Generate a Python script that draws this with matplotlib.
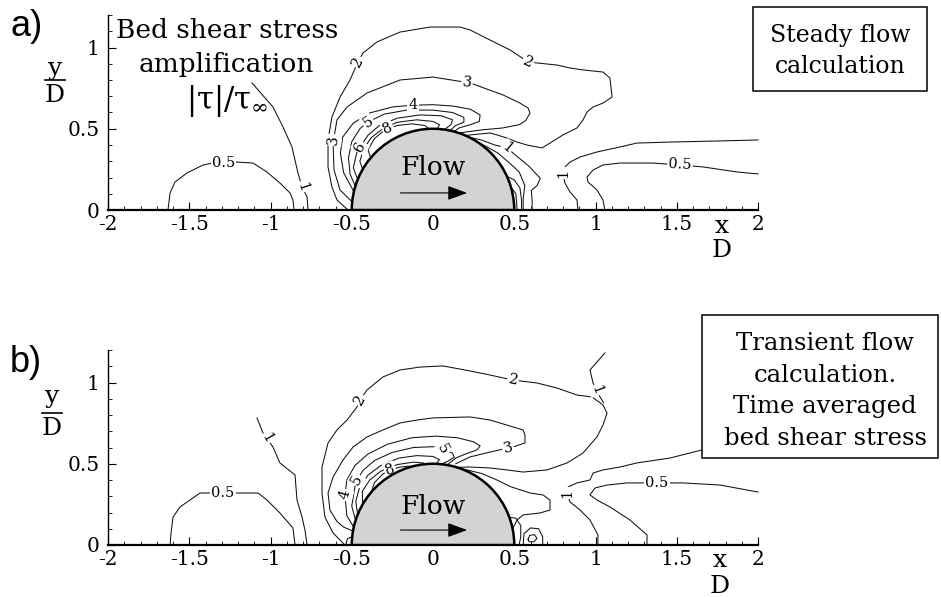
import matplotlib
matplotlib.use("Agg")
import matplotlib.pyplot as plt
from matplotlib.patches import Wedge, Rectangle
from matplotlib.lines import Line2D
from matplotlib.ticker import MultipleLocator

plt.rcParams['font.family'] = 'DejaVu Serif'
plt.rcParams['mathtext.fontset'] = 'dejavuserif'
plt.rcParams['axes.unicode_minus'] = False

# axis ticks
XTICKS = [-2, -1.5, -1, -0.5, 0, 0.5, 1, 1.5, 2]
XTICK_LABELS = ['-2', '-1.5', '-1', '-0.5', '0', '0.5', '1', '1.5', '2']
YTICKS = [0, 0.5, 1]
YTICK_LABELS = ['0', '0.5', '1']
CYL_R = 0.5

# ---- a) steady flow, contour lines (x/D, y/D) ----
a_05_left = [(-1.631, 0.0), (-1.618, 0.105), (-1.588, 0.172), (-1.514, 0.228), (-1.415, 0.277),
             (-1.354, 0.289), (-1.206, 0.295), (-1.108, 0.289), (-1.022, 0.234), (-0.942, 0.166),
             (-0.880, 0.105), (-0.862, 0.062), (-0.855, 0.0)]
a_1_left = [(-1.114, 0.782), (-0.985, 0.634), (-0.923, 0.511), (-0.868, 0.388), (-0.831, 0.228),
            (-0.806, 0.142), (-0.775, 0.080), (-0.769, 0.0)]
a_2 = [(-0.523, 0.0), (-0.591, 0.062), (-0.622, 0.142), (-0.646, 0.265), (-0.646, 0.431),
       (-0.622, 0.572), (-0.572, 0.695), (-0.511, 0.800), (-0.462, 0.911), (-0.431, 0.966),
       (-0.345, 1.034), (-0.203, 1.095), (-0.018, 1.126), (0.166, 1.126), (0.228, 1.108),
       (0.351, 1.046), (0.474, 0.985), (0.585, 0.911), (0.640, 0.905), (0.763, 0.892),
       (0.843, 0.874), (0.923, 0.862), (1.046, 0.849), (1.089, 0.812), (1.102, 0.695),
       (1.046, 0.658), (0.985, 0.634), (0.948, 0.603), (0.923, 0.554), (0.886, 0.505),
       (0.800, 0.462), (0.720, 0.412), (0.671, 0.382), (0.578, 0.400), (0.517, 0.418),
       (0.455, 0.443), (0.394, 0.462), (0.351, 0.474), (0.2, 0.459)]
a_3 = [(-0.497, 0.05), (-0.572, 0.123), (-0.609, 0.246), (-0.615, 0.412), (-0.591, 0.554),
       (-0.529, 0.634), (-0.406, 0.720), (-0.203, 0.800), (0.0, 0.818), (0.228, 0.782),
       (0.431, 0.708), (0.535, 0.658), (0.585, 0.628), (0.597, 0.597), (0.57, 0.55),
       (0.53, 0.525), (0.43, 0.505), (0.30, 0.493), (0.16, 0.474)]
a_4 = [(-0.487, 0.112), (-0.55, 0.23), (-0.57, 0.35), (-0.555, 0.45), (-0.49, 0.535),
       (-0.39, 0.597), (-0.25, 0.634), (-0.123, 0.645), (0.0, 0.648), (0.12, 0.64),
       (0.23, 0.62), (0.29, 0.585), (0.285, 0.545), (0.23, 0.525), (0.16, 0.505), (0.13, 0.483)]
a_5 = [(-0.478, 0.146), (-0.51, 0.22), (-0.52, 0.32), (-0.50, 0.42), (-0.45, 0.50),
       (-0.40, 0.542), (-0.30, 0.59), (-0.16, 0.615), (0.0, 0.615), (0.12, 0.60),
       (0.19, 0.57), (0.19, 0.54), (0.14, 0.52), (0.104, 0.489)]
a_6 = [(-0.464, 0.187), (-0.49, 0.26), (-0.47, 0.35), (-0.449, 0.388), (-0.40, 0.46),
       (-0.33, 0.52), (-0.22, 0.565), (-0.08, 0.585), (0.05, 0.58), (0.12, 0.555),
       (0.11, 0.525), (0.07, 0.495)]
a_7 = [(-0.433, 0.25), (-0.45, 0.30), (-0.425, 0.38), (-0.38, 0.445), (-0.31, 0.50),
       (-0.22, 0.54), (-0.10, 0.555), (0.0, 0.545), (0.04, 0.525), (0.026, 0.499)]
a_8 = [(-0.383, 0.321), (-0.40, 0.37), (-0.36, 0.44), (-0.30, 0.49), (-0.22, 0.52),
       (-0.13, 0.53), (-0.05, 0.52), (-0.026, 0.499)]
a_1_near = [(0.22, 0.449), (0.30, 0.43), (0.38, 0.40), (0.455, 0.382), (0.517, 0.33),
            (0.59, 0.27), (0.66, 0.195), (0.64, 0.15), (0.605, 0.12), (0.61, 0.06), (0.61, 0.0)]
a_w1 = [(0.28, 0.415), (0.33, 0.39), (0.40, 0.35), (0.47, 0.29), (0.53, 0.235),
        (0.565, 0.15), (0.555, 0.07), (0.555, 0.0)]
a_w2 = [(0.455, 0.207), (0.50, 0.185), (0.535, 0.135), (0.545, 0.06), (0.545, 0.0)]
a_w3 = [(0.48, 0.14), (0.51, 0.10), (0.518, 0.0)]
a_1_right = [(0.892, 0.0), (0.886, 0.062), (0.843, 0.111), (0.812, 0.166), (0.80, 0.228),
             (0.812, 0.265), (0.843, 0.295), (0.905, 0.326), (1.009, 0.357), (1.151, 0.388),
             (1.255, 0.412), (1.458, 0.418), (1.766, 0.425), (2.0, 0.431)]
a_05_right = [(1.058, 0.0), (1.046, 0.062), (1.009, 0.123), (0.954, 0.172), (0.948, 0.203),
              (0.985, 0.246), (1.046, 0.277), (1.151, 0.289), (1.354, 0.289), (1.52, 0.277),
              (1.662, 0.265), (1.871, 0.234), (2.0, 0.222)]
a_labels = [('0.5', -1.29, 0.292, 0), ('1', -0.806, 0.142, -72), ('2', -0.462, 0.911, 62),
            ('3', -0.612, 0.43, 85), ('6', -0.449, 0.388, 60), ('5', -0.40, 0.542, 35),
            ('8', -0.277, 0.50, 25), ('4', -0.123, 0.645, 0), ('3', 0.209, 0.785, -8),
            ('2', 0.585, 0.911, -25), ('1', 0.455, 0.382, -40), ('1', 0.80, 0.228, 90),
            ('0.5', 1.52, 0.277, -3)]

# ---- b) transient flow, time averaged ----
b_05_left = [(-1.618, 0.0), (-1.612, 0.074), (-1.60, 0.172), (-1.557, 0.234), (-1.495, 0.277),
             (-1.434, 0.32), (-1.292, 0.32), (-1.145, 0.32), (-1.077, 0.32), (-1.022, 0.277),
             (-0.942, 0.197), (-0.862, 0.105), (-0.849, 0.0)]
b_1_left = [(-1.083, 0.782), (-1.046, 0.689), (-1.022, 0.658), (-0.985, 0.603), (-0.942, 0.505),
            (-0.849, 0.431), (-0.837, 0.277), (-0.806, 0.172), (-0.788, 0.092), (-0.775, 0.0)]
b_2 = [(-0.542, 0.0), (-0.615, 0.074), (-0.665, 0.172), (-0.683, 0.32), (-0.683, 0.48),
       (-0.646, 0.628), (-0.591, 0.708), (-0.529, 0.769), (-0.468, 0.849), (-0.449, 0.892),
       (-0.406, 0.954), (-0.308, 1.034), (-0.203, 1.077), (-0.08, 1.095), (0.062, 1.102),
       (0.228, 1.071), (0.351, 1.046), (0.492, 1.015), (0.640, 0.997), (0.763, 0.966),
       (0.886, 0.923), (0.978, 0.911), (1.046, 0.862), (1.071, 0.812), (1.046, 0.738),
       (1.009, 0.665), (0.923, 0.566), (0.825, 0.505), (0.702, 0.462), (0.554, 0.449),
       (0.455, 0.462), (0.351, 0.474), (0.228, 0.48), (0.15, 0.478)]
b_1_top = [(1.058, 1.182), (0.966, 1.077), (0.985, 0.997), (1.009, 0.954), (1.028, 0.911),
           (1.05, 0.875)]
b_3 = [(-0.49, 0.085), (-0.55, 0.11), (-0.591, 0.145), (-0.634, 0.215), (-0.646, 0.32),
       (-0.615, 0.418), (-0.554, 0.523), (-0.492, 0.603), (-0.406, 0.665), (-0.308, 0.708),
       (-0.203, 0.751), (-0.098, 0.769), (0.0, 0.782), (0.228, 0.788), (0.351, 0.769),
       (0.455, 0.738), (0.554, 0.708), (0.566, 0.677), (0.566, 0.628), (0.492, 0.603),
       (0.462, 0.597), (0.351, 0.572), (0.228, 0.542), (0.14, 0.50)]
b_4 = [(-0.488, 0.11), (-0.53, 0.18), (-0.542, 0.308), (-0.53, 0.40), (-0.48, 0.49),
       (-0.40, 0.56), (-0.28, 0.62), (-0.13, 0.66), (0.02, 0.67), (0.15, 0.66), (0.25, 0.635),
       (0.29, 0.61), (0.27, 0.585), (0.20, 0.56), (0.14, 0.535), (0.09, 0.495)]
b_5 = [(-0.476, 0.15), (-0.50, 0.24), (-0.48, 0.36), (-0.468, 0.40), (-0.43, 0.46),
       (-0.36, 0.52), (-0.25, 0.57), (-0.12, 0.60), (0.0, 0.605), (0.06, 0.59), (0.12, 0.565),
       (0.13, 0.54), (0.09, 0.515), (0.05, 0.497)]
b_6 = [(-0.464, 0.187), (-0.475, 0.27), (-0.45, 0.36), (-0.40, 0.43), (-0.32, 0.49),
       (-0.21, 0.535), (-0.10, 0.55), (0.0, 0.545), (0.04, 0.525), (0.02, 0.50)]
b_7 = [(-0.433, 0.25), (-0.435, 0.33), (-0.39, 0.40), (-0.32, 0.455), (-0.22, 0.495),
       (-0.12, 0.51), (-0.06, 0.505), (-0.05, 0.497)]
b_8 = [(-0.38, 0.325), (-0.36, 0.385), (-0.31, 0.435), (-0.265, 0.462), (-0.20, 0.48),
       (-0.15, 0.485), (-0.13, 0.483)]
b_small = [(-0.497, 0.05), (-0.525, 0.04), (-0.535, 0.015), (-0.53, 0.0)]
b_w1 = [(0.16, 0.474), (0.30, 0.44), (0.394, 0.40), (0.474, 0.36), (0.597, 0.32),
        (0.677, 0.308), (0.72, 0.277), (0.72, 0.215), (0.658, 0.197), (0.554, 0.185),
        (0.517, 0.154), (0.49, 0.10)]
b_w2 = [(0.47, 0.17), (0.51, 0.165), (0.54, 0.12), (0.54, 0.05), (0.53, 0.0)]
b_w3 = [(0.555, 0.0), (0.56, 0.07), (0.60, 0.105), (0.65, 0.10), (0.675, 0.05), (0.675, 0.0)]
b_loop = [(0.585, 0.035), (0.595, 0.06), (0.625, 0.063), (0.64, 0.04), (0.62, 0.02),
          (0.59, 0.02), (0.585, 0.035)]
b_1_right = [(1.015, 0.0), (1.015, 0.062), (0.966, 0.154), (0.905, 0.215), (0.843, 0.265),
             (0.825, 0.32), (0.831, 0.357), (0.886, 0.382), (0.966, 0.40), (0.985, 0.443),
             (1.046, 0.462), (1.151, 0.48), (1.255, 0.505), (1.458, 0.535), (1.655, 0.585),
             (1.89, 0.634), (2.0, 0.646)]
b_05_right = [(1.317, 0.0), (1.317, 0.062), (1.212, 0.154), (1.089, 0.234), (1.009, 0.277),
              (0.966, 0.308), (0.997, 0.351), (1.071, 0.369), (1.194, 0.382), (1.378, 0.382),
              (1.538, 0.382), (1.766, 0.369), (2.0, 0.326)]
b_labels = [('0.5', -1.292, 0.32, 0), ('1', -1.022, 0.658, -60), ('2', -0.449, 0.892, 60),
            ('2', 0.492, 1.015, -12), ('1', 1.009, 0.954, -70), ('3', 0.462, 0.597, 15),
            ('4', -0.542, 0.308, 75), ('5', -0.468, 0.40, 60), ('8', -0.265, 0.462, 20),
            ('5', 0.06, 0.59, -60), ('1', 0.825, 0.32, 90), ('0.5', 1.378, 0.382, 0)]

a_lines = [a_05_left, a_1_left, a_2, a_3, a_4, a_5, a_6, a_7, a_8, a_1_near,
           a_w1, a_w2, a_w3, a_1_right, a_05_right]
b_lines = [b_05_left, b_1_left, b_2, b_1_top, b_3, b_4, b_5, b_6, b_7, b_8, b_small,
           b_w1, b_w2, b_w3, b_loop, b_1_right, b_05_right]

W, H = 941, 597
fig = plt.figure(figsize=(W / 100, H / 100), dpi=100)


def fx(px):
    return px / W


def fy(py):
    return 1 - py / H


def setup(ax):
    ax.set_xlim(-2, 2)
    ax.set_ylim(0, 1.2)
    ax.patch.set_alpha(0)
    for s in ('top', 'right'):
        ax.spines[s].set_visible(False)
    ax.spines['bottom'].set_linewidth(1.6)
    ax.spines['left'].set_linewidth(1.0)
    ax.set_xticks(XTICKS)
    ax.set_xticklabels(XTICK_LABELS)
    ax.set_yticks(YTICKS)
    ax.set_yticklabels(YTICK_LABELS)
    ax.xaxis.set_minor_locator(MultipleLocator(0.1))
    ax.yaxis.set_minor_locator(MultipleLocator(0.1))
    ax.tick_params(which='major', direction='in', length=6, width=0.8, labelsize=14.5)
    ax.tick_params(which='minor', direction='in', length=3, width=0.6)
    ax.tick_params(axis='x', pad=3.5)
    ax.tick_params(axis='y', pad=6)


def draw_panel(ax, lines, labels, flow_y, arrow_y):
    for pts in lines:
        xs = [p[0] for p in pts]
        ys = [p[1] for p in pts]
        ax.plot(xs, ys, color='#111111', lw=0.75, zorder=2, clip_on=False)
    for t, x, y, r in labels:
        ax.text(x, y, t, fontsize=10.5, rotation=r, rotation_mode='anchor',
                ha='center', va='center', zorder=3,
                bbox=dict(boxstyle='square,pad=0.08', fc='white', ec='none'))
    ax.add_patch(Wedge((0, 0), CYL_R, 0, 180, facecolor='#d3d3d3',
                       edgecolor='black', lw=1.8, zorder=4))
    ax.text(0, flow_y, 'Flow', ha='center', va='center', fontsize=19, zorder=5)
    ax.annotate('', xy=(0.21, arrow_y), xytext=(-0.20, arrow_y), zorder=5,
                arrowprops=dict(arrowstyle='-|>,head_length=0.6,head_width=0.22',
                                color='black', lw=0.8, mutation_scale=20,
                                shrinkA=0, shrinkB=0))


def frac(cx, y_base, bar_y, d_base, top):
    fig.text(fx(cx), fy(y_base), top, fontsize=18, ha='center', va='baseline')
    if bar_y is not None:
        fig.add_artist(Line2D([fx(cx - 10), fx(cx + 10)], [fy(bar_y)] * 2,
                              transform=fig.transFigure, color='black', lw=1.2))
    fig.text(fx(cx), fy(d_base), 'D', fontsize=18, ha='center', va='baseline')


def box(x0, y0, x1, y1):
    fig.add_artist(Rectangle((fx(x0), fy(y1)), fx(x1) - fx(x0), fy(y0) - fy(y1),
                             transform=fig.transFigure, facecolor='white',
                             edgecolor='black', lw=1.1, zorder=6))


ax_a = fig.add_axes([fx(108), fy(210), 650 / W, 195 / H])
ax_b = fig.add_axes([fx(108), fy(545), 650 / W, 195 / H])
setup(ax_a)
setup(ax_b)
draw_panel(ax_a, a_lines, a_labels, 0.26, 0.105)
draw_panel(ax_b, b_lines, b_labels, 0.234, 0.092)

fig.text(fx(10), fy(27), 'a)', fontsize=26, family='Liberation Sans', ha='left', va='center')
fig.text(fx(10), fy(362), 'b)', fontsize=26, family='Liberation Sans', ha='left', va='center')
frac(55, 75, 80, 102, 'y')
frac(52, 403, 413, 435, 'y')
frac(722, 233, None, 257, 'x')
frac(720, 567, None, 593, 'x')

fig.text(fx(227), fy(38), 'Bed shear stress', fontsize=19, ha='center', va='baseline')
fig.text(fx(226), fy(72), 'amplification', fontsize=19, ha='center', va='baseline')
fig.text(fx(227), fy(109), r'|τ|/τ$_\infty$', fontsize=22, ha='center', va='baseline')

box(753, 7, 927, 91)
fig.text(fx(840), fy(42), 'Steady flow', fontsize=17, ha='center', va='baseline', zorder=7)
fig.text(fx(840), fy(73), 'calculation', fontsize=17, ha='center', va='baseline', zorder=7)

box(702, 315, 938, 458)
for txt, base in [('Transient flow', 350), ('calculation.', 382),
                  ('Time averaged', 413), ('bed shear stress', 445)]:
    fig.text(fx(825), fy(base), txt, fontsize=17.5, ha='center', va='baseline', zorder=7)

fig.savefig('out.png', dpi=100)
